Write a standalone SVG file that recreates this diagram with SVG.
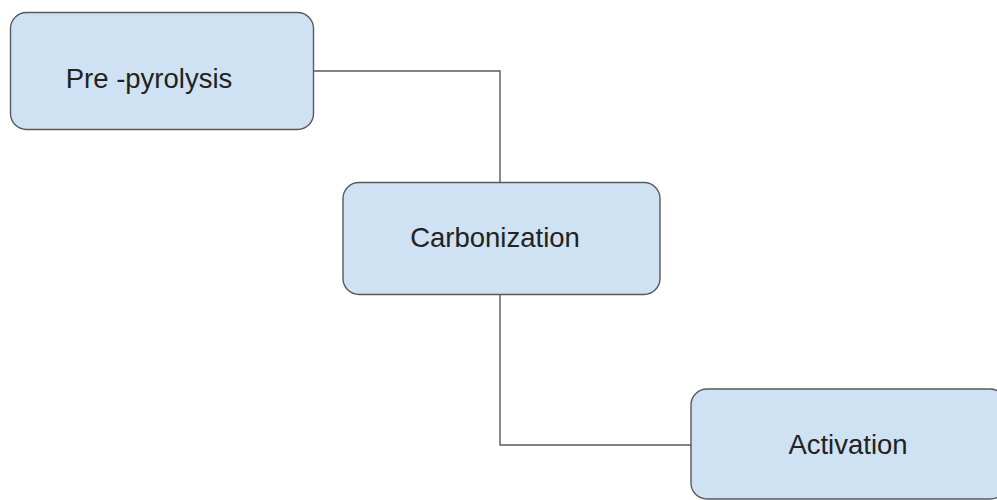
<svg xmlns="http://www.w3.org/2000/svg" width="997" height="500" viewBox="0 0 997 500">
<style>
.box{fill:#cfe2f3;stroke:#595959;stroke-width:1.4}
.lbl{font-family:"Liberation Sans",Arial,sans-serif;font-size:27.5px;fill:#222222}
.conn{fill:none;stroke:#595959;stroke-width:1.4}
</style>
<rect width="997" height="500" fill="#ffffff"/>
<g id="connectors">
<path class="conn" d="M313,71 H500 V182"/>
<path class="conn" d="M500,294 V445 H691"/>
</g>
<g id="node-prepyrolysis">
<rect class="box" x="10.5" y="12.5" width="303" height="117" rx="16" ry="16"/>
<text class="lbl" x="149" y="88" text-anchor="middle">Pre -pyrolysis</text>
</g>
<g id="node-carbonization">
<rect class="box" x="343" y="182.5" width="317" height="112" rx="16" ry="16"/>
<text class="lbl" x="495" y="247" text-anchor="middle">Carbonization</text>
</g>
<g id="node-activation">
<rect class="box" x="691" y="389" width="315" height="110" rx="16" ry="16"/>
<text class="lbl" x="848" y="454" text-anchor="middle">Activation</text>
</g>
</svg>
